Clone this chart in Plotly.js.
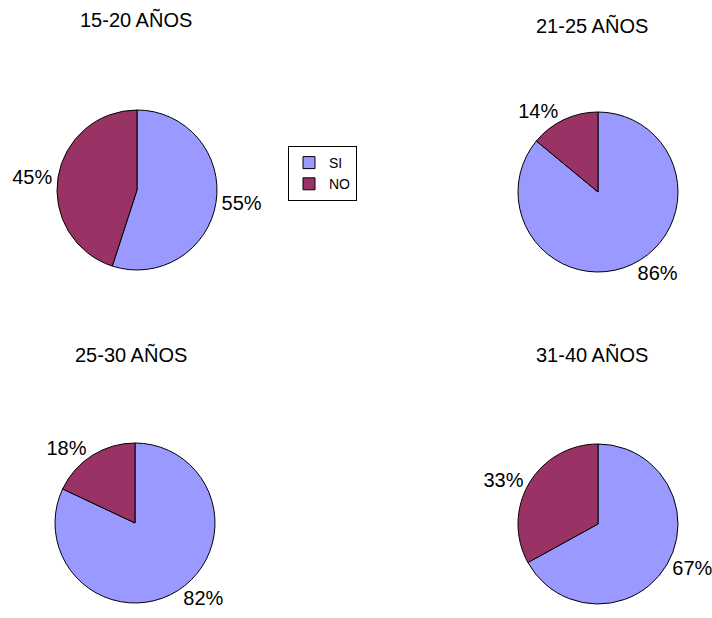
<!DOCTYPE html>
<html>
<head>
<meta charset="utf-8">
<script src="https://cdn.plot.ly/plotly-3.0.1.min.js"></script>
<style>html,body{margin:0;padding:0;background:#fff;}#chart{width:712px;height:618px;}</style>
</head>
<body>
<div id="chart"></div>
<script>
const labels = ["SI", "NO"];
const groups = ["15-20 AÑOS", "21-25 AÑOS", "25-30 AÑOS", "31-40 AÑOS"];
const siValues = [55, 86, 82, 67];
const noValues = [45, 14, 18, 33];
const colors = ["#9999FF", "#993366"];

const W = 712, H = 618;
const FONT = "Liberation Sans, Arial, Helvetica, sans-serif";
// pie centers and radius in pixels (layout)
const centers = [[137, 190], [598, 192], [135, 523], [598, 524]];
const radius = 80;
const titlePos = [[136, 20], [592, 25], [131, 354], [592, 354]];

const traces = groups.map((g, i) => {
  const [cx, cy] = centers[i];
  return {
    type: "pie",
    name: g,
    labels: labels,
    values: [siValues[i], noValues[i]],
    sort: false,
    direction: "clockwise",
    rotation: 0,
    textinfo: "percent",
    textposition: "outside",
    texttemplate: "%{percent:.0%}",
    outsidetextfont: {family: FONT, size: 20, color: "#000"},
    marker: {colors: colors, line: {color: "#000", width: 1}},
    hoverinfo: "label+percent",
    automargin: false,
    domain: {
      x: [(cx - radius) / W, (cx + radius) / W],
      y: [1 - (cy + radius) / H, 1 - (cy - radius) / H]
    }
  };
});

const annotations = groups.map((g, i) => ({
  text: g,
  xref: "paper", yref: "paper",
  x: titlePos[i][0] / W, y: 1 - titlePos[i][1] / H,
  xanchor: "center", yanchor: "middle",
  showarrow: false,
  font: {family: FONT, size: 20, color: "#000"}
}));

const layout = {
  width: W, height: H,
  margin: {l: 0, r: 0, t: 0, b: 0},
  paper_bgcolor: "#fff",
  showlegend: true,
  legend: {
    x: 288 / W, y: 1 - 146 / H, xanchor: "left", yanchor: "top",
    bordercolor: "#000", borderwidth: 1,
    font: {family: FONT, size: 14, color: "#000"},
    itemwidth: 30,
    tracegroupgap: 0
  },
  annotations: annotations
};

Plotly.newPlot("chart", traces, layout, {displayModeBar: false, staticPlot: true});
</script>
</body>
</html>
